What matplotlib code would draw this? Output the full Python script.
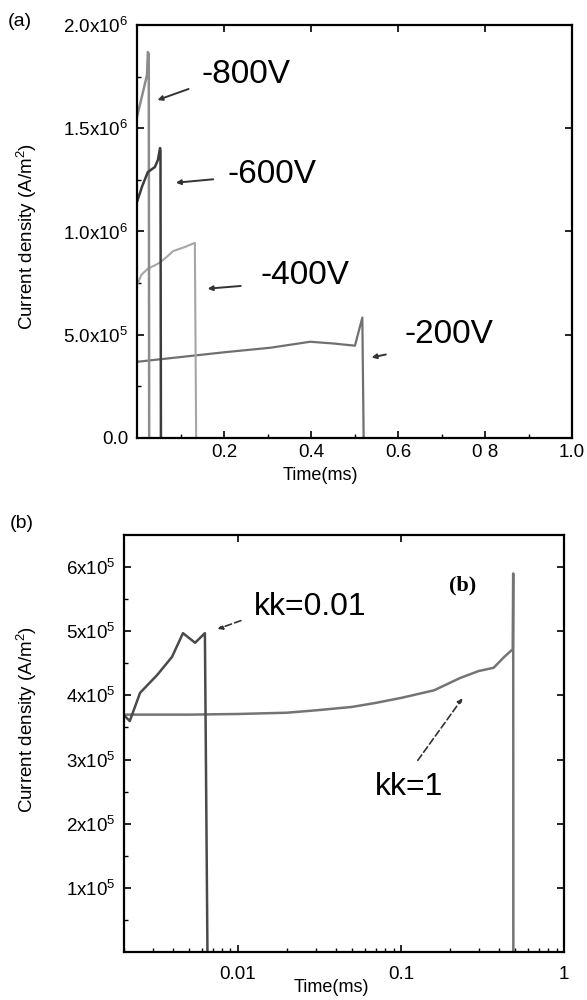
import numpy as np
import matplotlib
matplotlib.use("Agg")
import matplotlib.pyplot as plt
from matplotlib.ticker import FixedLocator, NullFormatter

plt.rcParams['font.family'] = ['Liberation Sans', 'DejaVu Sans']
plt.rcParams['mathtext.fontset'] = 'custom'
plt.rcParams['mathtext.rm'] = 'Liberation Sans'
plt.rcParams['mathtext.it'] = 'Liberation Sans:italic'

# ---- panel (a): current density vs time for bias voltages (linear time) ----
t800 = [0, 0.011, 0.023, 0.025, 0.027, 0.028]
j800 = [1.555e6, 1.651e6, 1.758e6, 1.869e6, 1.86e6, 0]
t600 = [0, 0.012, 0.025, 0.041, 0.048, 0.053, 0.054, 0.055]
j600 = [1.143e6, 1.22e6, 1.288e6, 1.312e6, 1.346e6, 1.404e6, 1.39e6, 0]
t400 = [0, 0.01, 0.025, 0.04, 0.053, 0.07, 0.083, 0.11, 0.133, 0.136]
j400 = [0.74e6, 0.79e6, 0.82e6, 0.835e6, 0.85e6, 0.88e6, 0.905e6, 0.925e6, 0.945e6, 0]
t200 = [0, 0.1, 0.2, 0.306, 0.398, 0.45, 0.501, 0.518, 0.521]
j200 = [0.369e6, 0.392e6, 0.415e6, 0.437e6, 0.466e6, 0.458e6, 0.447e6, 0.583e6, 0]

a_yticks = [0, 0.5e6, 1.0e6, 1.5e6, 2.0e6]
a_ylabels = ['0.0', r'5.0x10$^{5}$', r'1.0x10$^{6}$', r'1.5x10$^{6}$', r'2.0x10$^{6}$']
a_xticks = [0.2, 0.4, 0.6, 0.8, 1.0]
a_xlabels = ['0.2', '0.4', '0.6', '0 8', '1.0']

# ---- panel (b): kk comparison (log time) ----
tk001 = [0.002, 0.00217, 0.00251, 0.0032, 0.00394, 0.0046, 0.00546, 0.00627, 0.0065]
jk001 = [3.69e5, 3.6e5, 4.04e5, 4.32e5, 4.6e5, 4.97e5, 4.82e5, 4.97e5, 0]
tk1 = [0.002, 0.005, 0.01, 0.02, 0.031, 0.05, 0.069, 0.1, 0.16, 0.23, 0.3, 0.37,
       0.43, 0.485, 0.488, 0.489]
jk1 = [3.70e5, 3.70e5, 3.71e5, 3.73e5, 3.77e5, 3.82e5, 3.88e5, 3.96e5, 4.08e5,
       4.27e5, 4.38e5, 4.43e5, 4.6e5, 4.72e5, 5.9e5, 0]

b_yticks = [1e5, 2e5, 3e5, 4e5, 5e5, 6e5]
b_ylabels = [r'%dx10$^{5}$' % k for k in range(1, 7)]
b_xticks = [0.01, 0.1, 1]
b_xlabels = ['0.01', '0.1', '1']

fig = plt.figure(figsize=(5.87, 10.0), dpi=100)
W, H = 587.0, 1000.0


def box(l, t, r, b):
    return [l / W, 1 - b / H, (r - l) / W, (b - t) / H]


def style(ax):
    for s in ax.spines.values():
        s.set_linewidth(1.6)
    ax.tick_params(which='major', direction='in', length=5, width=1.2,
                   top=True, right=True, labelsize=13.5, pad=6)
    ax.tick_params(which='minor', direction='in', length=3, width=1.0,
                   top=False, right=False)


# panel (a)
ax = fig.add_axes(box(137, 25, 572, 438))
ax.plot(t200, j200, color='#707070', lw=1.6)
ax.plot(t400, j400, color='#a6a6a6', lw=1.5)
ax.plot(t800, j800, color='#8c8c8c', lw=1.8)
ax.plot(t600, j600, color='#3c3c3c', lw=1.8)
ax.set_xlim(0, 1.0)
ax.set_ylim(0, 2.0e6)
ax.set_xticks(a_xticks)
ax.set_xticklabels(a_xlabels)
ax.set_yticks(a_yticks)
ax.set_yticklabels(a_ylabels)
ax.xaxis.set_minor_locator(FixedLocator([0.1, 0.3, 0.5, 0.7, 0.9]))
ax.yaxis.set_minor_locator(FixedLocator([0.25e6, 0.75e6, 1.25e6, 1.75e6]))
style(ax)
ax.tick_params(axis='x', which='major', pad=4)

arr = dict(arrowstyle='-|>', color='#333333', lw=1.4, mutation_scale=7)
ax.annotate('-800V', xy=(0.041, 1.632e6), xytext=(0.149, 1.758e6),
            fontsize=24, va='center', ha='left',
            arrowprops=dict(arr, relpos=(0, 0.2), shrinkA=8))
ax.annotate('-600V', xy=(0.083, 1.235e6), xytext=(0.207, 1.274e6),
            fontsize=24, va='center', ha='left',
            arrowprops=dict(arr, relpos=(0, 0.4), shrinkA=8))
ax.annotate('-400V', xy=(0.156, 0.722e6), xytext=(0.283, 0.789e6),
            fontsize=24, va='center', ha='left',
            arrowprops=dict(arr, relpos=(0, 0.2), shrinkA=12))
ax.annotate('-200V', xy=(0.533, 0.387e6), xytext=(0.616, 0.499e6),
            fontsize=24, va='center', ha='left',
            arrowprops=dict(arr, relpos=(0, 0.0), shrinkA=12))

fig.text(20 / W, 1 - 22 / H, '(a)', fontsize=14, ha='center', va='center')
fig.text(27 / W, 1 - 236 / H, 'Current density (A/m$^{2}$)', fontsize=13.5,
         rotation=90, ha='center', va='center')
fig.text(320 / W, 1 - 475 / H, 'Time(ms)', fontsize=13, ha='center', va='center')

# panel (b)
bx = fig.add_axes(box(124, 535, 564, 952))
bx.plot(tk1, jk1, color='#747474', lw=1.8)
bx.plot(tk001, jk001, color='#4a4a4a', lw=1.8)
bx.set_xscale('log')
bx.set_xlim(0.002, 1)
bx.set_ylim(0, 6.5e5)
bx.set_xticks(b_xticks)
bx.set_xticklabels(b_xlabels)
bx.xaxis.set_minor_formatter(NullFormatter())
bx.set_yticks(b_yticks)
bx.set_yticklabels(b_ylabels)
bx.yaxis.set_minor_locator(FixedLocator([0.5e5, 1.5e5, 2.5e5, 3.5e5, 4.5e5, 5.5e5]))
style(bx)
bx.tick_params(axis='x', which='major', pad=10)

darr = dict(arrowstyle='-|>', color='#333333', lw=1.2, mutation_scale=7,
            linestyle=(0, (4, 2)))
bx.annotate('kk=0.01', xy=(0.00723, 5.02e5), xytext=(0.01256, 5.38e5),
            fontsize=23, va='center', ha='left',
            arrowprops=dict(darr, relpos=(0, 0.2), shrinkA=8))
bx.annotate('kk=1', xy=(0.244, 3.99e5), xytext=(0.0694, 2.57e5),
            fontsize=23, va='center', ha='left',
            arrowprops=dict(darr, relpos=(0.5, 1.0), shrinkA=8))
bx.text(0.240, 5.72e5, '(b)', fontsize=16, fontweight='bold',
        family=['Liberation Serif', 'DejaVu Serif'], ha='center', va='center')

fig.text(22 / W, 1 - 523 / H, '(b)', fontsize=14, ha='center', va='center')
fig.text(27 / W, 1 - 719 / H, 'Current density (A/m$^{2}$)', fontsize=13.5,
         rotation=90, ha='center', va='center')
fig.text(331 / W, 1 - 988 / H, 'Time(ms)', fontsize=13, ha='center', va='center')

fig.savefig('out.png', dpi=100)
